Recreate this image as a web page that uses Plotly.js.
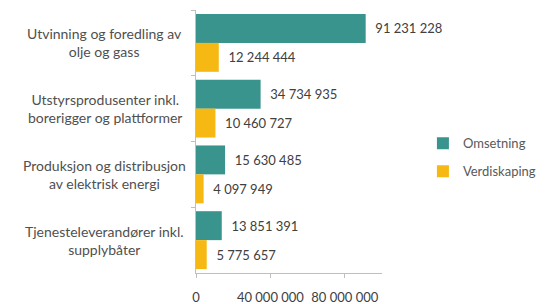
<!DOCTYPE html>
<html><head><meta charset="utf-8">
<script src="https://cdn.plot.ly/plotly-3.0.1.min.js"></script>
<style>body{margin:0;background:#fff}#c{width:546px;height:304px}</style>
</head><body><div id="c"></div>
<script>
const categories = ["Utvinning og foredling av<br>olje og gass","Utstyrsprodusenter inkl.<br>borerigger og plattformer","Produksjon og distribusjon<br>av elektrisk energi","Tjenesteleverandører inkl.<br>supplybåter"];
const omsetning = [91231228, 34734935, 15630485, 13851391];
const verdiskaping = [12244444, 10460727, 4097949, 5775657];
const seriesNames = ["Omsetning","Verdiskaping"];
const xTicks = [0, 40000000, 80000000];

const font = "Lato, 'Open Sans', sans-serif";
const common = {type:'bar', orientation:'h', y:categories, textposition:'outside',
  cliponaxis:false, constraintext:'none',
  texttemplate:'\u00a0\u00a0%{x:,.0f}', textfont:{family:font,size:13,color:'#404040'}, hoverinfo:'none'};
const data = [
  Object.assign({}, common, {name:seriesNames[0], legendgroup:'a', x:omsetning, marker:{color:'#3a948e'}}),
  Object.assign({}, common, {name:seriesNames[1], legendgroup:'b', x:verdiskaping, marker:{color:'#f6b913'}})
];
const annotations = categories.map(c => ({xref:'paper', yref:'y', x:-0.49, y:c, text:c,
  showarrow:false, align:'center', xanchor:'center', yanchor:'middle',
  font:{family:font,size:14,color:'#505050'}}));
const layout = {
  width:546, height:304, margin:{l:196,r:164,t:10,b:31,autoexpand:false},
  paper_bgcolor:'#fff', plot_bgcolor:'#fff', separators:', ',
  barmode:'group', bargap:0.12, bargroupgap:0,
  font:{family:font,color:'#595959'},
  xaxis:{range:[0,100000000], tickvals:xTicks, tickformat:',.0f', tickangle:0, showgrid:false, zeroline:false,
    showline:true, linecolor:'#bfbfbf', linewidth:1, ticks:'outside', ticklen:4, tickcolor:'#bfbfbf',
    ticklabelstandoff:8, tickfont:{family:font,size:13,color:'#404040'}},
  yaxis:{type:'category', autorange:'reversed', showticklabels:false, showgrid:false, zeroline:false,
    showline:true, linecolor:'#bfbfbf', linewidth:1, ticks:'outside', ticklen:4, tickcolor:'#bfbfbf',
    tickson:'boundaries'},
  legend:{x:1.22, y:0.44, xanchor:'left', yanchor:'middle', itemwidth:30, traceorder:'grouped',
    font:{family:font,size:13,color:'#595959'}, tracegroupgap:8},
  annotations:annotations, showlegend:true
};
Plotly.newPlot('c', data, layout, {staticPlot:true});
</script></body></html>
